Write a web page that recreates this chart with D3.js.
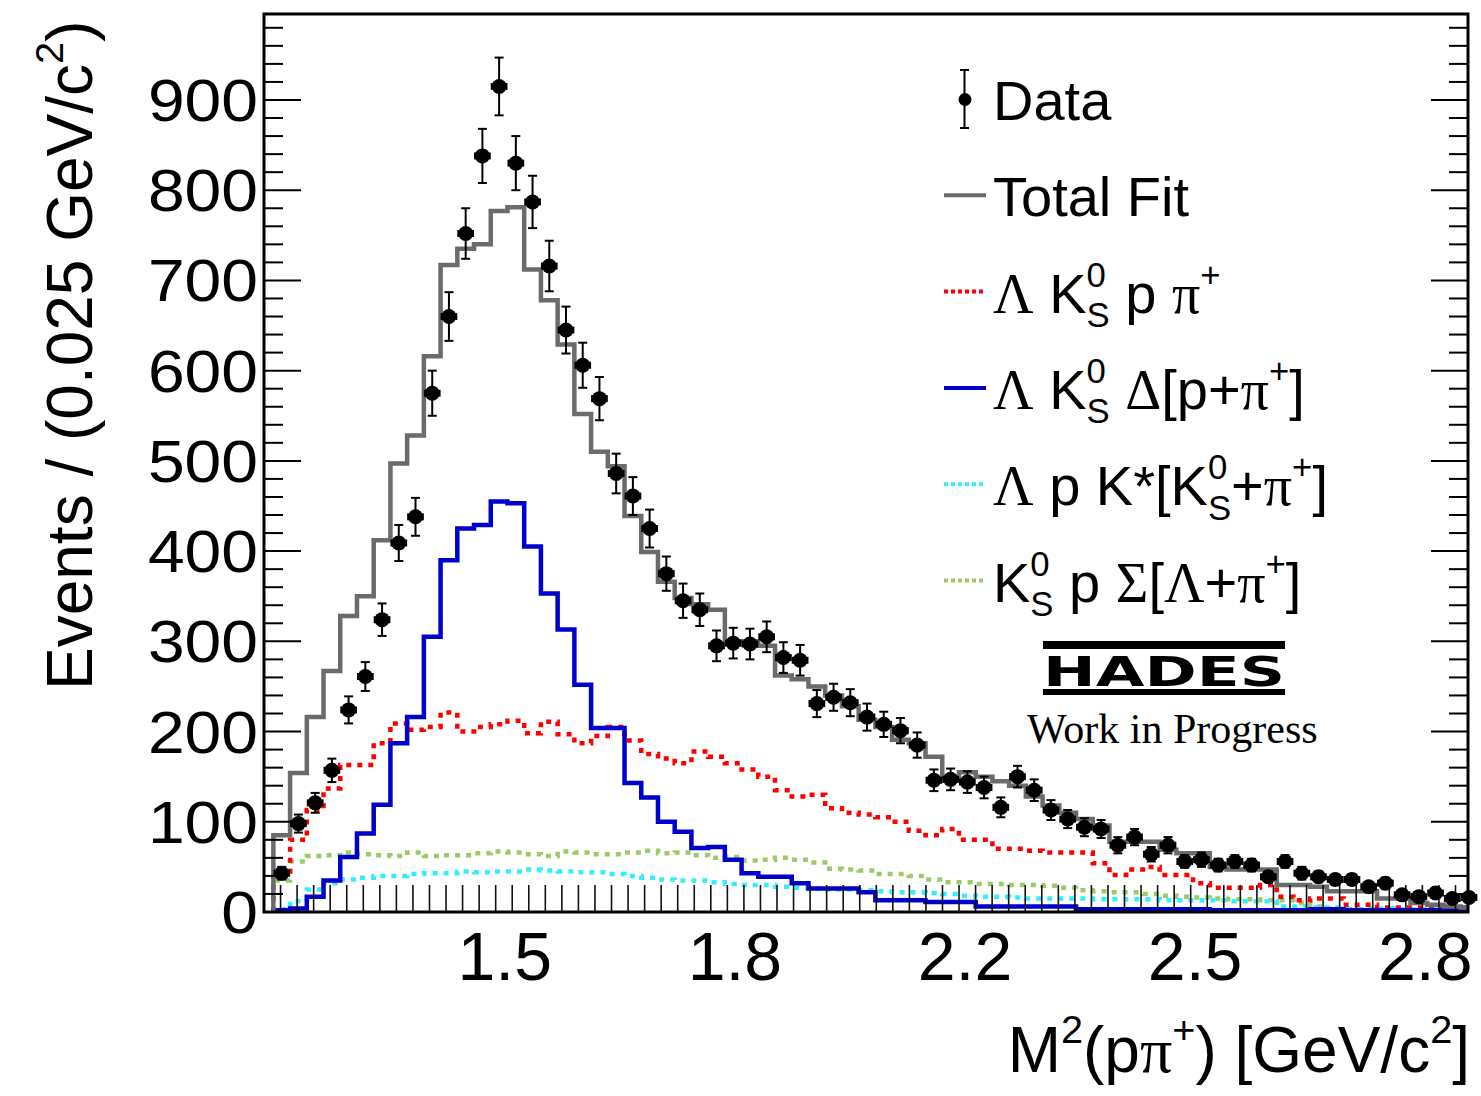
<!DOCTYPE html>
<html>
<head>
<meta charset="utf-8">
<script src="https://cdn.jsdelivr.net/npm/d3@7"></script>
<style>
  body { margin: 0; background: #fff; }
  svg { display: block; }
  text { white-space: pre; }
</style>
</head>
<body>
<svg></svg>
<script>
// ---- data (72 bins of 0.025) ----
const nBins = 72;
const firstCenter = 1.1665;
const binWidth = 0.025;

const dataVals = [43, 98, 121, 157, 224, 261, 324, 409, 438, 575, 660, 752, 838, 915, 830, 787, 716, 645, 606, 569,
  486, 461, 425, 375, 345, 335, 295, 298, 297, 305, 282, 279, 231, 238, 232, 216, 208, 201, 185, 146,
  147, 144, 138, 116, 150, 135, 113, 103, 94, 92, 74, 83, 64, 74, 56, 58, 52, 56, 52, 39,
  56, 43, 39, 36, 36, 28, 32, 19, 17, 21, 15, 16];
const dataErr = [7, 10, 11, 13, 15, 16, 18, 20, 21, 25, 27, 28, 30, 32, 30, 29, 28, 26, 25, 24,
  22, 21, 21, 19, 19, 18, 17, 17, 17, 17, 17, 17, 15, 15, 15, 15, 14, 14, 14, 12,
  12, 12, 12, 11, 12, 12, 11, 10, 10, 10, 9, 9, 8, 9, 7, 8, 7, 7, 7, 6,
  7, 7, 6, 6, 6, 5, 6, 4, 4, 5, 4, 4];
const totalFit = [85, 154, 216, 267, 328, 350, 412, 497, 528, 616, 717, 735, 740, 777, 781, 712, 678, 629, 552, 510,
  494, 439, 399, 366, 348, 341, 335, 300, 300, 295, 262, 258, 250, 240, 228, 213, 205, 191, 187, 172,
  150, 155, 150, 145, 140, 128, 118, 110, 103, 96, 78, 78, 78, 69, 65, 65, 50, 47, 47, 47,
  30, 30, 28, 23, 23, 23, 15, 15, 10, 8, 6, 5];
const lkppi = [39, 80, 113, 137, 163, 163, 187, 209, 202, 205, 221, 200, 205, 208, 212, 198, 211, 197, 187, 195,
  205, 190, 175, 170, 165, 178, 172, 165, 158, 150, 135, 128, 130, 115, 110, 108, 105, 100, 90, 85,
  92, 80, 80, 70, 70, 68, 66, 66, 66, 54, 41, 47, 50, 41, 41, 32, 27, 27, 27, 30,
  17, 13, 15, 15, 8, 8, 5, 5, 5, 5, 5, 5];
const lkDelta = [2, 4, 17, 35, 61, 87, 119, 187, 216, 305, 390, 425, 429, 455, 453, 405, 353, 313, 252, 204,
  204, 143, 127, 100, 89, 71, 72, 58, 43, 39, 39, 32, 26, 26, 26, 22, 13, 13, 13, 11,
  11, 11, 6, 6, 6, 6, 6, 6, 3, 3, 3, 3, 3, 3, 3, 3, 2, 2, 2, 2,
  2, 2, 3, 3, 2, 2, 2, 2, 2, 2, 2, 2];
const lpKstar = [3, 12, 25, 32, 36, 38, 40, 40, 42, 43, 43, 45, 44, 45, 45, 47, 46, 45, 44, 44,
  42, 40, 38, 36, 35, 35, 33, 31, 30, 30, 28, 27, 26, 25, 25, 24, 23, 22, 22, 21,
  20, 18, 17, 17, 16, 15, 15, 15, 15, 14, 14, 14, 14, 13, 13, 13, 13, 12, 12, 12,
  6, 6, 5, 5, 4, 4, 4, 3, 3, 3, 3, 3];
const kpSigma = [35, 56, 62, 63, 66, 64, 63, 62, 66, 62, 63, 63, 65, 67, 66, 64, 62, 67, 66, 64,
  64, 66, 68, 65, 66, 63, 60, 61, 57, 58, 60, 58, 55, 48, 47, 46, 42, 42, 40, 36,
  33, 33, 31, 31, 30, 30, 29, 27, 24, 23, 22, 22, 20, 18, 17, 16, 15, 14, 14, 13,
  13, 10, 6, 4, 3, 3, 2, 2, 2, 2, 2, 2];

const xTickVals = [1.5, 1.844, 2.188, 2.532, 2.876];
const xTickLabels = ["1.5", "1.8", "2.2", "2.5", "2.8"];
const yTickVals = [0, 100, 200, 300, 400, 500, 600, 700, 800, 900];

const SANS = "'Liberation Sans', Arial, Helvetica, sans-serif";
const SERIF = "'Liberation Serif', 'Times New Roman', serif";

let svg = d3.select("svg").attr("width", 1481).attr("height", 1096);

let fr = { left: 264, right: 1468, top: 14, bottom: 912 };
let x = d3.scaleLinear().domain([1.14, 2.94]).range([fr.left, fr.right]);
let y = d3.scaleLinear().domain([0, 995.3]).range([fr.bottom, fr.top]);

let centers = d3.range(nBins).map(k => firstCenter + k * binWidth);

svg.append("defs").append("clipPath").attr("id", "plotclip")
  .append("rect").attr("x", fr.left).attr("y", fr.top)
  .attr("width", fr.right - fr.left).attr("height", fr.bottom - fr.top);

let plot = svg.append("g").attr("clip-path", "url(#plotclip)");

// histogram outline as a step path
function stepPoints(vals) {
  let pts = [[centers[0] - binWidth / 2, 0]];
  vals.forEach((v, i) => pts.push([centers[i] - binWidth / 2, v]));
  pts.push([centers[nBins - 1] + binWidth / 2, vals[nBins - 1]]);
  return pts;
}
let stepLine = d3.line().x(d => x(d[0])).y(d => y(d[1])).curve(d3.curveStepAfter);

let series = [
  { vals: kpSigma, color: "#99cc66", w: 4.5, dash: "5,6" },
  { vals: lpKstar, color: "#33eeff", w: 4.5, dash: "5,6" },
  { vals: lkppi, color: "#ff0000", w: 4.5, dash: "5,6" },
  { vals: lkDelta, color: "#0000cc", w: 4.5, dash: null },
  { vals: totalFit, color: "#6b6b6b", w: 4.5, dash: null },
];

// x ticks along the bottom (drawn under the curves)
let minorStep = 0.02474;
let xMinor = d3.range(1, 73).map(k => 1.14 + k * minorStep).filter(v => v < 2.94);
svg.append("g").selectAll("line").data(xMinor).join("line")
  .attr("x1", d => x(d)).attr("x2", d => x(d))
  .attr("y1", fr.bottom).attr("y2", fr.bottom - 27)
  .attr("stroke", "#111").attr("stroke-width", 1.6);

series.forEach(s => {
  plot.append("path")
    .attr("d", stepLine(stepPoints(s.vals)))
    .attr("fill", "none")
    .attr("stroke", s.color)
    .attr("stroke-width", s.w)
    .attr("stroke-dasharray", s.dash)
    .attr("stroke-linejoin", "miter");
});

// data points with error bars
let pts = svg.append("g");
let halfPx = x(binWidth / 2) - x(0);
centers.forEach((c, i) => {
  let cx = x(c), cy = y(dataVals[i]);
  let y1 = y(dataVals[i] - dataErr[i]), y2 = y(dataVals[i] + dataErr[i]);
  pts.append("line").attr("x1", cx).attr("x2", cx).attr("y1", y1).attr("y2", y2)
    .attr("stroke", "#000").attr("stroke-width", 2);
  [y1, y2].forEach(yy => pts.append("line").attr("x1", cx - 4.5).attr("x2", cx + 4.5)
    .attr("y1", yy).attr("y2", yy).attr("stroke", "#000").attr("stroke-width", 2));
  pts.append("line").attr("x1", cx - halfPx + 1).attr("x2", cx + halfPx - 1).attr("y1", cy).attr("y2", cy)
    .attr("stroke", "#000").attr("stroke-width", 2);
  [cx - halfPx + 1, cx + halfPx - 1].forEach(xx => pts.append("line").attr("x1", xx).attr("x2", xx)
    .attr("y1", cy - 3.5).attr("y2", cy + 3.5).attr("stroke", "#000").attr("stroke-width", 2));
  pts.append("circle").attr("cx", cx).attr("cy", cy).attr("r", 7.5).attr("fill", "#000");
});

// frame
svg.append("rect").attr("x", fr.left).attr("y", fr.top)
  .attr("width", fr.right - fr.left).attr("height", fr.bottom - fr.top)
  .attr("fill", "none").attr("stroke", "#000").attr("stroke-width", 3);

// y axis ticks (left and right)
let yMinor = d3.range(0, 995, 20);
let yax = svg.append("g");
yMinor.forEach(v => {
  let major = v % 100 === 0;
  let len = major ? 37 : 19;
  yax.append("line").attr("x1", fr.left).attr("x2", fr.left + len)
    .attr("y1", y(v)).attr("y2", y(v)).attr("stroke", "#000").attr("stroke-width", 2);
  yax.append("line").attr("x1", fr.right).attr("x2", fr.right - len)
    .attr("y1", y(v)).attr("y2", y(v)).attr("stroke", "#000").attr("stroke-width", 2);
});

yax.selectAll("text").data(yTickVals).join("text")
  .attr("transform", d => `translate(258,${y(d) + 21}) scale(1.1,1)`)
  .attr("text-anchor", "end")
  .attr("font-family", SANS).attr("font-size", 60)
  .text(d => d);

svg.append("g").selectAll("text").data(xTickVals).join("text")
  .attr("x", d => x(d)).attr("y", 980)
  .attr("text-anchor", "middle")
  .attr("font-family", SANS).attr("font-size", 68)
  .text((d, i) => xTickLabels[i]);

// rich text helper: parts drawn left to right, stacked super/subscripts share x
function rich(g, parts, size) {
  let cx = 0;
  parts.forEach(p => {
    let items = p.stack || [p];
    let w = 0;
    items.forEach(q => {
      let t = g.append("text").attr("x", cx).attr("y", (q.dy || 0) * size)
        .attr("xml:space", "preserve")
        .attr("font-family", q.serif ? SERIF : SANS)
        .attr("font-size", size * (q.sc || 1))
        .attr("fill", "#000")
        .text(q.t);
      w = Math.max(w, t.node().getComputedTextLength());
    });
    cx += w;
  });
  return cx;
}

const sup = t => ({ t: t, sc: 0.62, dy: -0.46 });
const sub = t => ({ t: t, sc: 0.62, dy: 0.26 });
const K0S = { stack: [sup("0"), sub("S")] };

// axis titles
let yt = svg.append("g").attr("transform", "translate(92,690) rotate(-90)");
rich(yt, [{ t: "Events / (0.025 GeV/c" }, sup("2"), { t: ")" }], 64);

let xt = svg.append("g");
let xw = rich(xt, [{ t: "M" }, sup("2"), { t: "(p" }, { t: "π", serif: true }, sup("+"),
  { t: ") [GeV/c" }, sup("2"), { t: "]" }], 64);
xt.attr("transform", `translate(${1470 - xw},1072)`);

// legend
const legendEntries = [
  { kind: "data", parts: [{ t: "Data" }] },
  { kind: "line", color: "#6b6b6b", dash: null, parts: [{ t: "Total Fit" }] },
  { kind: "line", color: "#ff0000", dash: "4,3", parts: [{ t: "Λ", serif: true }, { t: " K" }, K0S, { t: " p " }, { t: "π", serif: true }, sup("+")] },
  { kind: "line", color: "#0000cc", dash: null, parts: [{ t: "Λ", serif: true }, { t: " K" }, K0S, { t: " " }, { t: "Δ", serif: true }, { t: "[p+" }, { t: "π", serif: true }, sup("+"), { t: "]" }] },
  { kind: "line", color: "#33eeff", dash: "4,3", parts: [{ t: "Λ", serif: true }, { t: " p K*[K" }, K0S, { t: "+" }, { t: "π", serif: true }, sup("+"), { t: "]" }] },
  { kind: "line", color: "#99cc66", dash: "4,3", parts: [{ t: "K" }, K0S, { t: " p " }, { t: "Σ", serif: true }, { t: "[" }, { t: "Λ", serif: true }, { t: "+" }, { t: "π", serif: true }, sup("+"), { t: "]" }] },
];

let leg = svg.append("g");
legendEntries.forEach((e, i) => {
  let by = 120 + i * 96.3;
  let g = leg.append("g").attr("transform", `translate(993,${by})`);
  rich(g, e.parts, 56);
  let my = by - 21;
  if (e.kind === "data") {
    leg.append("line").attr("x1", 964.5).attr("x2", 964.5).attr("y1", 70).attr("y2", 128)
      .attr("stroke", "#000").attr("stroke-width", 2);
    [70, 128].forEach(yy => leg.append("line").attr("x1", 960).attr("x2", 969)
      .attr("y1", yy).attr("y2", yy).attr("stroke", "#000").attr("stroke-width", 2));
    leg.append("circle").attr("cx", 965).attr("cy", 99.5).attr("r", 6.5).attr("fill", "#000");
  } else {
    leg.append("line").attr("x1", 944).attr("x2", 986).attr("y1", my).attr("y2", my)
      .attr("stroke", e.color).attr("stroke-width", 4).attr("stroke-dasharray", e.dash);
  }
});

// HADES logo and label
let logo = svg.append("g");
logo.append("rect").attr("x", 1043).attr("y", 641).attr("width", 242).attr("height", 8).attr("fill", "#000");
logo.append("rect").attr("x", 1043).attr("y", 689).attr("width", 242).attr("height", 6).attr("fill", "#000");
logo.append("text").attr("x", 1043).attr("y", 686)
  .attr("font-family", "'DejaVu Sans', sans-serif").attr("font-weight", "bold")
  .attr("font-size", 40).attr("textLength", 242).attr("lengthAdjust", "spacingAndGlyphs")
  .text("HADES");
logo.append("text").attr("x", 1027).attr("y", 743)
  .attr("font-family", SERIF).attr("font-size", 42)
  .text("Work in Progress");
</script>
</body>
</html>
